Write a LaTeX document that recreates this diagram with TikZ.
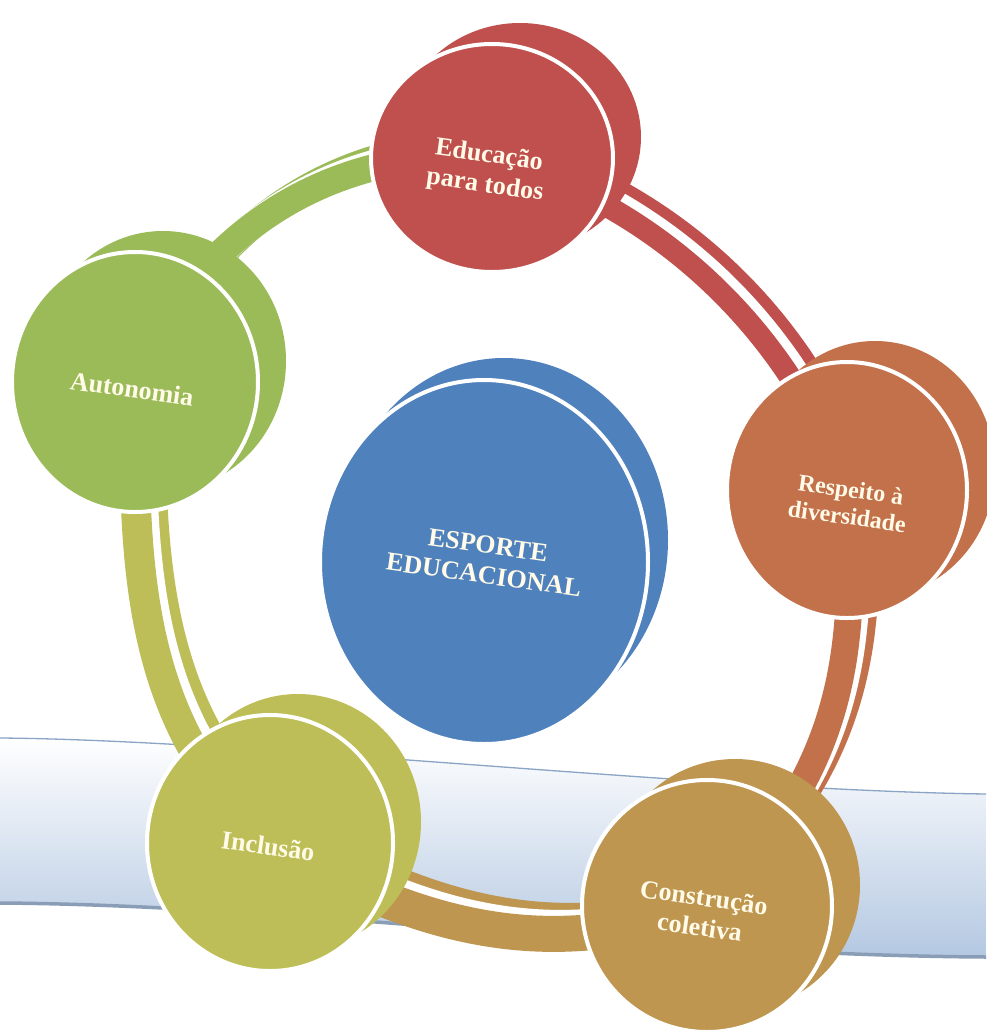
\documentclass[tikz,border=0pt]{standalone}
\usepackage{fontspec}
\setmainfont{Liberation Serif}
\usetikzlibrary{shapes.geometric}
\pgfdeclarelayer{bandlayer}
\pgfdeclarelayer{arclayer}
\pgfsetlayers{bandlayer,arclayer,main}
\definecolor{cRed}{HTML}{C0504D}
\definecolor{cOrange}{HTML}{C3714B}
\definecolor{cGold}{HTML}{BE9650}
\definecolor{cOlive}{HTML}{BEBE58}
\definecolor{cGreen}{HTML}{9BBB59}
\definecolor{cBlue}{HTML}{4F81BD}
\definecolor{txt}{HTML}{FFFBE8}
\definecolor{bandblue}{HTML}{B4C8E2}
\definecolor{bandtop}{HTML}{8AA4C6}
\definecolor{bandbot}{HTML}{8A9DB6}
\tikzset{
  front/.style={ellipse, draw=white, line width=4pt, inner sep=0pt, fill=#1},
  back/.style={preaction={fill=#1, transform canvas={xshift=28pt,yshift=21pt}}},
  backB/.style={preaction={fill=#1, transform canvas={xshift=20pt,yshift=22pt}}},
  lbl/.style={text=txt, font=\bfseries\fontsize{26}{30}\selectfont, align=center, rotate=-8, inner sep=0pt},
}
\newcommand\ringarc[6]{%
  \draw[#1, line width=#2, transform canvas={xshift=16pt,yshift=13pt}] (#3.center) .. controls #4 and #5 .. (#6.center);
  \draw[white, line width=#2, transform canvas={xshift=7pt,yshift=6pt}] (#3.center) .. controls #4 and #5 .. (#6.center);
  \draw[#1, line width=#2] (#3.center) .. controls #4 and #5 .. (#6.center);}
\begin{document}
\begin{tikzpicture}[x=1pt,y=-1pt]
\useasboundingbox (0,0) rectangle (986,1034);
\begin{pgfonlayer}{bandlayer}
  \fill[white] (0,0) rectangle (986,1034);
  \shade[top color=white, bottom color=bandblue]
    (0,738) .. controls (250,740) and (700,790) .. (986,794) -- (986,957)
    .. controls (650,955) and (300,905) .. (0,903) -- cycle;
  \draw[bandtop, line width=1.3pt] (0,738) .. controls (250,740) and (700,790) .. (986,794);
  \draw[bandbot, line width=3.5pt] (0,903) .. controls (300,905) and (650,955) .. (986,957);
\end{pgfonlayer}

% nodes
\node[front=cBlue, backB=cBlue, minimum width=328pt, minimum height=364pt] (B) at (484,562) {};
\node[front=cRed, back=cRed, minimum width=242pt, minimum height=228pt] (R) at (492,158) {};
\node[front=cOrange, back=cOrange, minimum width=240pt, minimum height=256pt] (O) at (847,490) {};
\node[front=cGold, back=cGold, minimum width=250pt, minimum height=252pt] (C) at (707,906) {};
\node[front=cOlive, back=cOlive, minimum width=246pt, minimum height=256pt] (I) at (270,843) {};
\node[front=cGreen, back=cGreen, minimum width=246pt, minimum height=260pt] (G) at (135,382) {};

% labels
\node[lbl] (Bt) at (486,560) {ESPORTE\\EDUCACIONAL};
\node[lbl] (Rt) at (487,171) {Educação\\para todos};
\node[lbl, font=\bfseries\fontsize{24}{27}\selectfont] (Ot) at (849,503) {Respeito à\\diversidade};
\node[lbl] (Ct) at (702,912) {Construção\\coletiva};
\node[lbl] (It) at (268,846) {Inclusão};
\node[lbl] (Gt) at (132,389) {Autonomia};

% ring connectors
\begin{pgfonlayer}{arclayer}
  \ringarc{cGreen}{27pt}{G}{(197,227)}{(341,145)}{R}
  \ringarc{cRed}{22pt}{R}{(656,205)}{(788,328)}{O}
  \ringarc{cOrange}{27pt}{O}{(857,648)}{(847,770)}{C}
  \ringarc{cGold}{36pt}{C}{(545,963)}{(418,928)}{I}
  \ringarc{cOlive}{30pt}{I}{(135,724)}{(133,562)}{G}
\end{pgfonlayer}
\end{tikzpicture}
\end{document}
